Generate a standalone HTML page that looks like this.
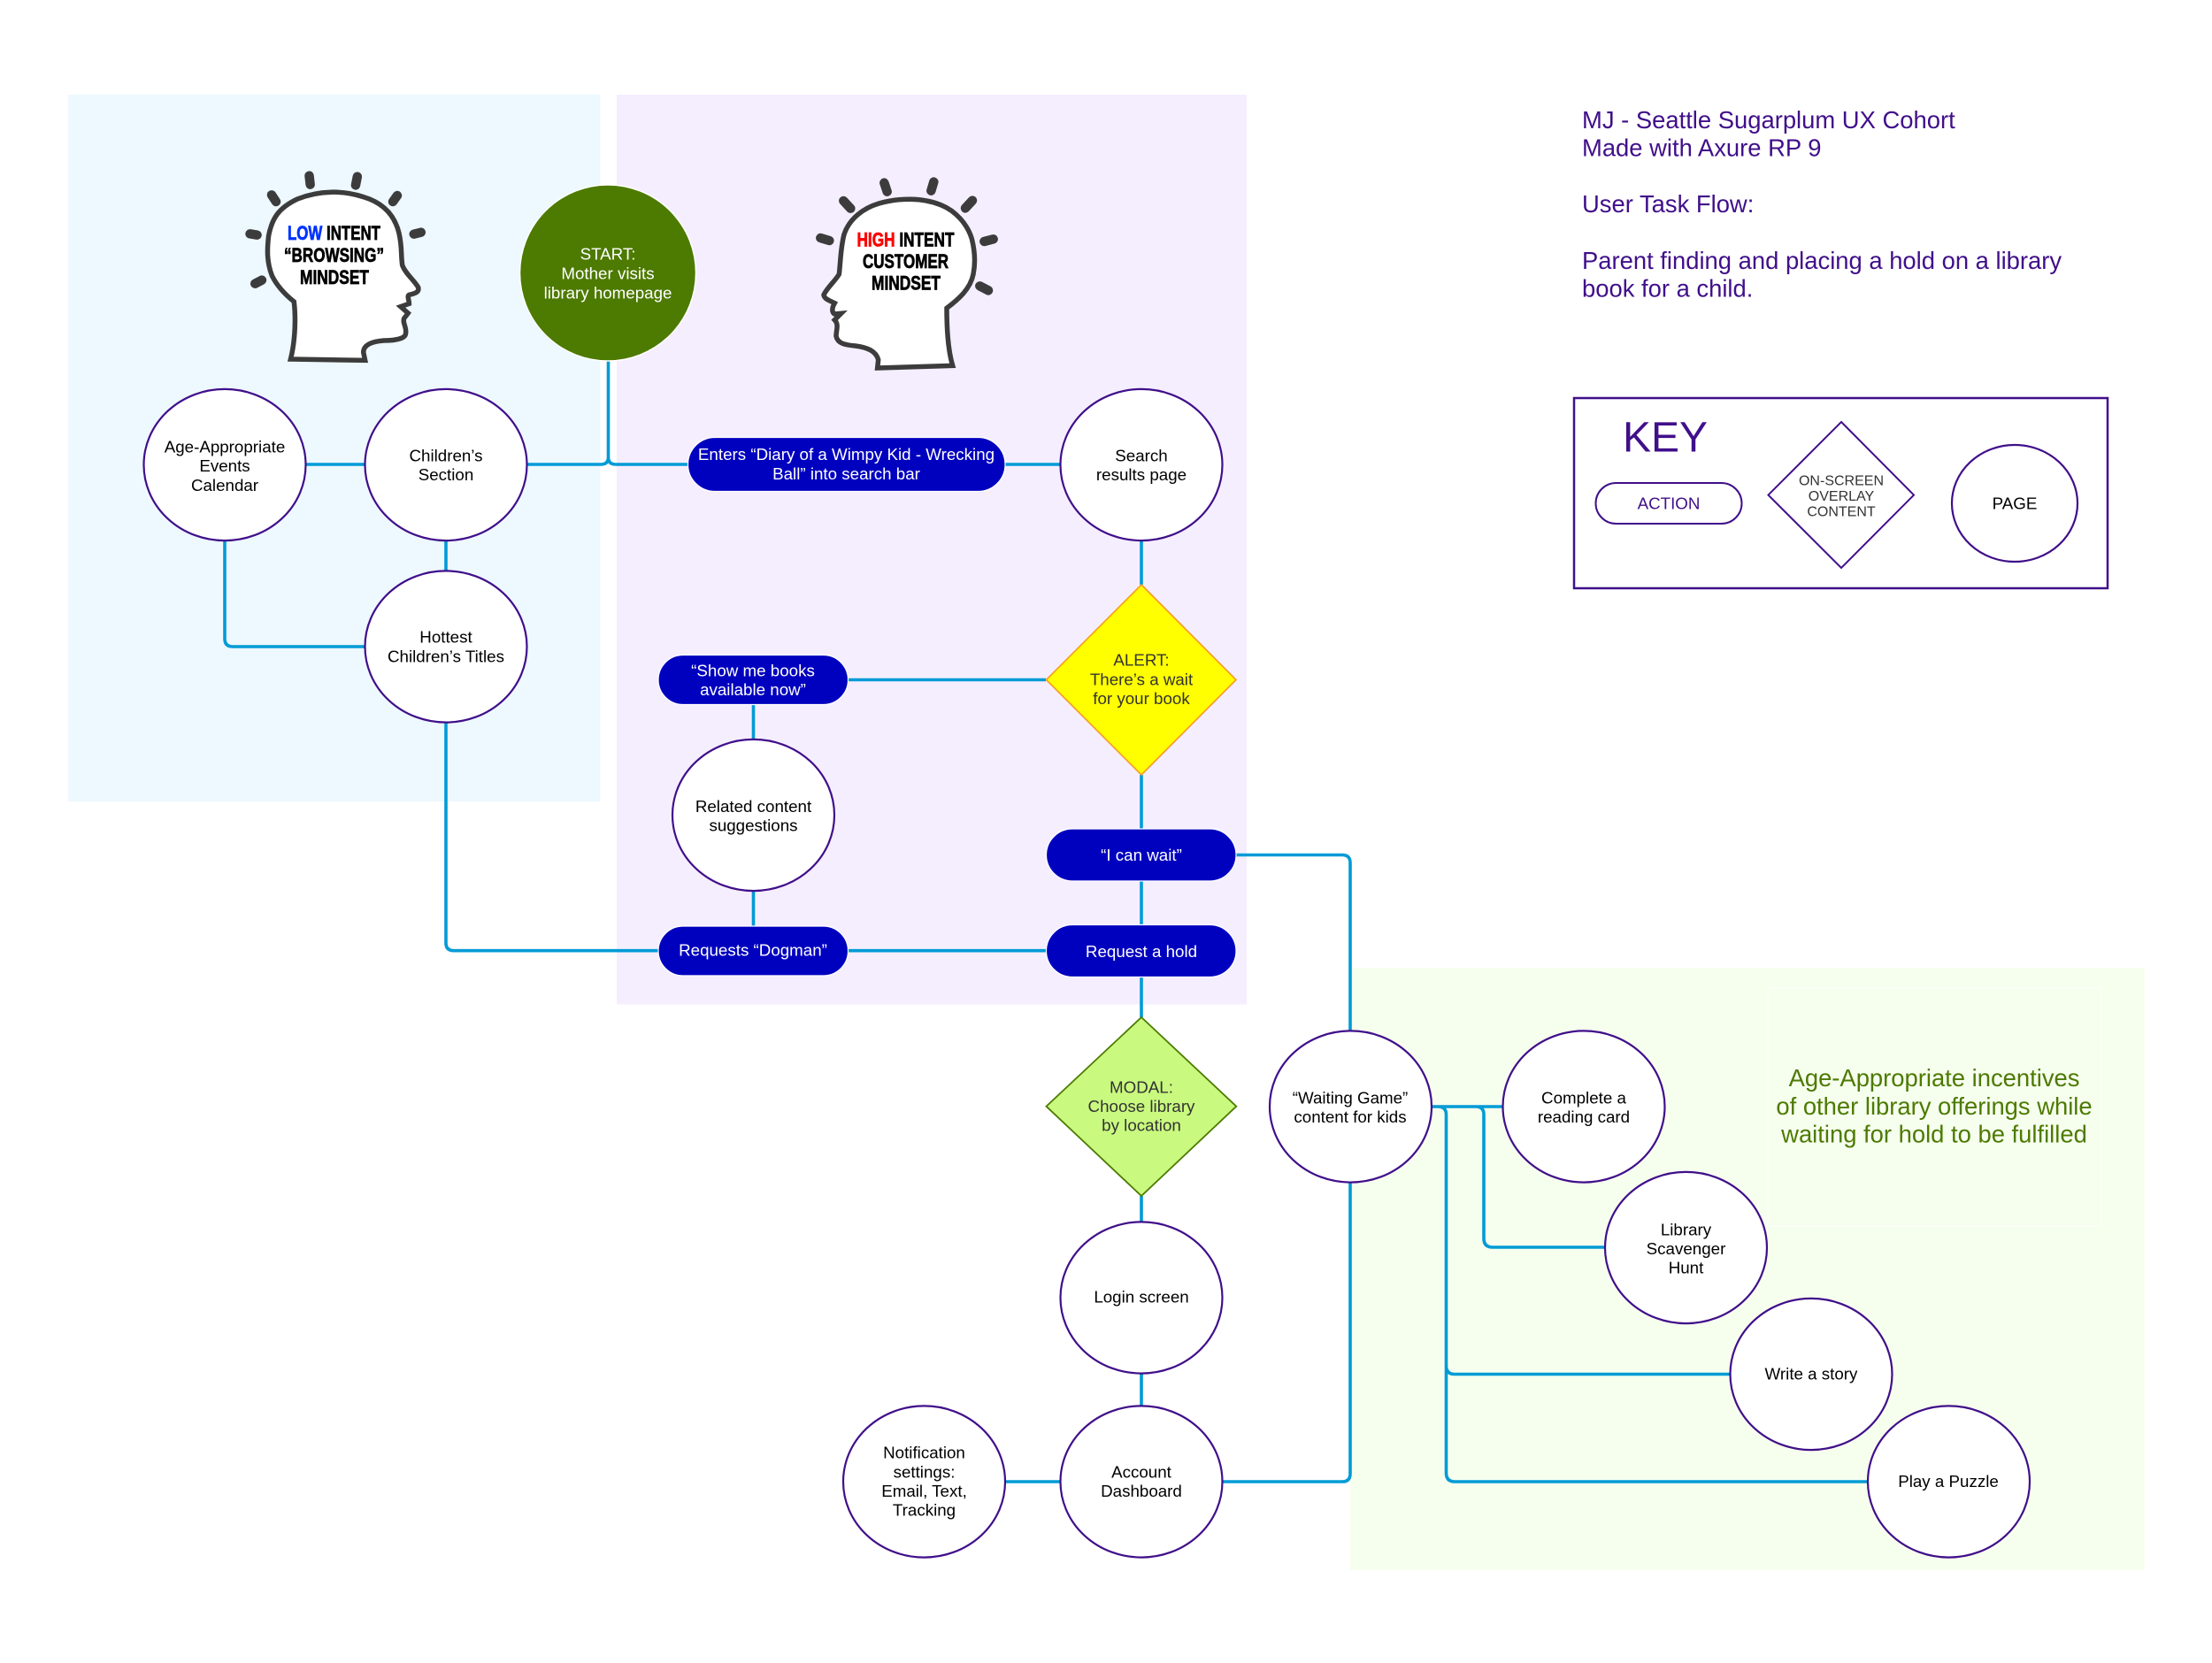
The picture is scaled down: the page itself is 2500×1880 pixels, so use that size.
<!DOCTYPE html>
<html><head><meta charset="utf-8"><title>User Task Flow</title>
<style>
html,body{margin:0;padding:0;background:#fff}
svg{display:block}
text{font-family:"Liberation Sans",Arial,sans-serif;font-size:18.75px;text-anchor:middle;fill:#000}
.w{fill:#fff}
.d{fill:#333}
.n{fill:#fff;stroke:#400f8a;stroke-width:2.2;ry:85.6px}
.p{fill:#0000bf;stroke:#fff;stroke-width:1.2}
.l{fill:none;stroke:#009bd6;stroke-width:3.6}
.h{font-size:27.4px;text-anchor:start;fill:#400f8a}
.g{font-size:27.4px;fill:#4d7a00}
.t{font-weight:bold;font-size:22px;stroke:#000;stroke-width:.7}
.ray{fill:none;stroke:#3c3c3c;stroke-linecap:round;stroke-width:10.5}
.head{fill:#fff;stroke:#3c3c3c;stroke-width:5.5}
</style></head>
<body>
<svg width="2500" height="1880" viewBox="0 0 2500 1880" xmlns="http://www.w3.org/2000/svg">
<rect width="2500" height="1880" fill="#fff"/>
<rect x="77" y="107" width="601.5" height="799" fill="#edf8ff"/>
<rect x="697" y="107" width="712" height="1028.500" fill="#f5eeff"/>
<rect x="1526" y="1094" width="898" height="681" fill="#f6feee"/>
<rect x="1998" y="1117" width="377" height="269" fill="none" stroke="#fbfff8" stroke-width="1.5"/>

<!-- connectors -->
<path class="l" d="M346,525H412M595,525H679Q687.500,525 687.500,517V408M777,525H696Q687.500,525 687.500,517M1136,525H1198M504,611V645M254,611V722Q254,731 263,731H412M504,817V1066Q504,1074.700 513,1074.700H744M958,1074.700H1182M958,768.500H1182M851.500,796V836M851.500,1007V1047M1290,611V661M1290,876V937M1290,995V1046M1290,1104V1150M1290,1352V1381M1290,1553V1589M1136,1675H1198M1397,966.500H1517Q1526,966.500 1526,975.500V1165M1382,1675H1517Q1526,1675 1526,1666V1337M1618,1251H1699M1625,1251Q1634.500,1251 1634.500,1260V1544Q1634.500,1553.500 1644,1553.500H1955M1634.500,1544V1665Q1634.500,1675 1644,1675H2111M1668,1251Q1677,1251 1677,1260V1400Q1677,1410 1687,1410H1814"/>

<!-- page nodes -->
<ellipse cx="687" cy="308.500" rx="99.500" ry="99.500" fill="#4d7a00" stroke="#fff" stroke-width="1.500"/>
<text class="w" x="687" y="293.500">START:</text>
<text class="w" x="687" y="315.500">Mother visits</text>
<text class="w" x="687" y="337.500">library homepage</text>

<ellipse class="n" cx="254" cy="525.500" rx="91.500" ry="86"/>
<text x="254" y="511.500">Age-Appropriate</text><text x="254" y="533">Events</text><text x="254" y="555">Calendar</text>
<ellipse class="n" cx="504" cy="525.500" rx="91.500" ry="86"/>
<text x="504" y="521.500">Children’s</text><text x="504" y="543">Section</text>
<ellipse class="n" cx="504" cy="731" rx="91.500" ry="86"/>
<text x="504" y="726.500">Hottest</text><text x="504" y="748.500">Children’s Titles</text>
<ellipse class="n" cx="1290" cy="525.500" rx="91.500" ry="86"/>
<text x="1290" y="521.500">Search</text><text x="1290" y="543">results page</text>
<ellipse class="n" cx="851.500" cy="921.500" rx="91.500" ry="86"/>
<text x="851.500" y="918">Related content</text><text x="851.500" y="939.500">suggestions</text>
<ellipse class="n" cx="1290" cy="1467" rx="91.500" ry="86"/>
<text x="1290" y="1472.500">Login screen</text>
<ellipse class="n" cx="1290" cy="1675" rx="91.500" ry="86"/>
<text x="1290" y="1670.500">Account</text><text x="1290" y="1692">Dashboard</text>
<ellipse class="n" cx="1044.500" cy="1675" rx="91.500" ry="86"/>
<text x="1044.500" y="1648.500">Notification</text><text x="1044.500" y="1670.500">settings:</text><text x="1044.500" y="1692">Email, Text,</text><text x="1044.500" y="1713.500">Tracking</text>
<ellipse class="n" cx="1526.500" cy="1251" rx="91.500" ry="86"/>
<text x="1526" y="1247.500">“Waiting Game”</text><text x="1526" y="1269">content for kids</text>
<ellipse class="n" cx="1790" cy="1251" rx="91.500" ry="86"/>
<text x="1790" y="1247.500">Complete a</text><text x="1790" y="1269">reading card</text>
<ellipse class="n" cx="1905.500" cy="1410.500" rx="91.500" ry="86"/>
<text x="1905.500" y="1396.500">Library</text><text x="1905.500" y="1418">Scavenger</text><text x="1905.500" y="1439.500">Hunt</text>
<ellipse class="n" cx="2047" cy="1553.500" rx="91.500" ry="86"/>
<text x="2047" y="1559.500">Write a story</text>
<ellipse class="n" cx="2202.500" cy="1675" rx="91.500" ry="86"/>
<text x="2202" y="1681">Play a Puzzle</text>

<!-- pills -->
<rect class="p" x="777.500" y="494.500" width="358.500" height="61" rx="30.500"/>
<text class="w" x="956.500" y="520">Enters “Diary of a Wimpy Kid - Wrecking</text>
<text class="w" x="956.500" y="542">Ball” into search bar</text>
<rect class="p" x="744" y="740.500" width="214.500" height="56" rx="28"/>
<text class="w" x="851" y="764.500">“Show me books</text>
<text class="w" x="851" y="786">available now”</text>
<rect class="p" x="744" y="1047" width="214.500" height="56" rx="28"/>
<text class="w" x="851" y="1080.500">Requests “Dogman”</text>
<rect class="p" x="1182.500" y="937" width="214.500" height="59" rx="29.500"/>
<text class="w" x="1290" y="973">“I can wait”</text>
<rect class="p" x="1182.500" y="1045.500" width="214.500" height="59" rx="29.500"/>
<text class="w" x="1290" y="1082">Request a hold</text>

<!-- diamonds -->
<polygon points="1290,661 1397,768.500 1290,876 1182.500,768.500" fill="#ffff00" stroke="#f79a1e" stroke-width="1.600"/>
<text class="d" x="1290" y="752.500">ALERT:</text><text class="d" x="1290" y="774.500">There’s a wait</text><text class="d" x="1290" y="796">for your book</text>
<polygon points="1290,1150 1397.300,1250.700 1290,1352 1182.500,1250.700" fill="#c9f97f" stroke="#4d7a00" stroke-width="1.800"/>
<text class="d" x="1290" y="1235.500">MODAL:</text><text class="d" x="1290" y="1257">Choose library</text><text class="d" x="1290" y="1278.500">by location</text>

<!-- green text -->
<text class="g" x="2186" y="1228">Age-Appropriate incentives</text>
<text class="g" x="2186" y="1260">of other library offerings while</text>
<text class="g" x="2186" y="1291.500">waiting for hold to be fulfilled</text>

<!-- header text -->
<text class="h" x="1788" y="145">MJ - Seattle Sugarplum UX Cohort</text>
<text class="h" x="1788" y="176.500">Made with Axure RP 9</text>
<text class="h" x="1788" y="240">User Task Flow:</text>
<text class="h" x="1788" y="304">Parent finding and placing a hold on a library</text>
<text class="h" x="1788" y="335.700">book for a child.</text>

<!-- key -->
<rect x="1779" y="450" width="603" height="215" fill="none" stroke="#400f8a" stroke-width="2.500"/>
<text x="1834" y="510.600" style="font-size:48px;text-anchor:start;fill:#400f8a">KEY</text>
<rect x="1803.500" y="546" width="165" height="46" rx="23" fill="#fff" stroke="#400f8a" stroke-width="2"/>
<text x="1886" y="575.500" style="fill:#400f8a">ACTION</text>
<polygon points="2081,477 2163,559.600 2081,642 1998.500,559.600" fill="#fff" stroke="#400f8a" stroke-width="2"/>
<text class="d" x="2081" y="548.700" style="font-size:16px">ON-SCREEN</text>
<text class="d" x="2081" y="566" style="font-size:16px">OVERLAY</text>
<text class="d" x="2081" y="583.300" style="font-size:16px">CONTENT</text>
<ellipse cx="2277" cy="569" rx="71" ry="66" fill="#fff" stroke="#400f8a" stroke-width="2.2"/>
<text x="2277" y="575.500">PAGE</text>

<!-- low intent head -->
<g transform="translate(250,170) scale(.38268,.33333)">
<path class="ray" vector-effect="non-scaling-stroke" d="M149,151L162,174M260,86L263,116M402,89L397,118M520,153L507,174M85,283L106,287M569,284L590,278M100,452L120,440"/>
<path class="head" vector-effect="non-scaling-stroke" d="M205,708L425,712L420,685C420,660 445,648 480,645C510,645 545,640 545,620C548,600 535,585 540,570L552,552L530,530L555,520C555,505 548,495 555,490C575,485 585,480 582,465C570,440 545,420 535,390C530,350 535,330 525,280C510,210 470,175 420,158C360,135 290,135 225,165C170,195 150,230 140,290C135,340 135,380 150,425C165,460 190,490 215,513C220,560 220,640 205,708Z"/>
</g>
<text class="t" x="377.500" y="271" textLength="105" lengthAdjust="spacingAndGlyphs"><tspan fill="#0033ff" stroke="#0033ff">LOW</tspan> INTENT</text>
<text class="t" x="377.500" y="296" textLength="113" lengthAdjust="spacingAndGlyphs">“BROWSING”</text>
<text class="t" x="378" y="321" textLength="78" lengthAdjust="spacingAndGlyphs">MINDSET</text>

<!-- high intent head -->
<g transform="translate(880,170) scale(.33333)">
<path class="ray" vector-effect="non-scaling-stroke" d="M220,171L244,197M358,110L368,140M526,107L517,137M657,170L633,196M142,297L172,306M697,309L728,301M682,460L711,475"/>
<path class="head" vector-effect="non-scaling-stroke" d="M335,738L590,730C575,680 570,600 570,535C610,505 650,470 660,420C668,380 665,340 655,300C640,250 600,205 550,185C490,160 410,160 340,180C290,195 240,230 222,285C210,330 210,380 205,420C190,445 165,465 153,490C155,505 175,510 190,518C180,535 180,550 190,555L212,553L190,575C205,590 195,610 195,630C200,655 225,660 260,663C300,668 330,680 338,710Z"/>
</g>
<text class="t" x="1023.500" y="278.500" textLength="110" lengthAdjust="spacingAndGlyphs"><tspan fill="#ff0000" stroke="#ff0000">HIGH</tspan> INTENT</text>
<text class="t" x="1023.500" y="303" textLength="97" lengthAdjust="spacingAndGlyphs">CUSTOMER</text>
<text class="t" x="1024" y="327.500" textLength="78" lengthAdjust="spacingAndGlyphs">MINDSET</text>
</svg>
</body></html>
